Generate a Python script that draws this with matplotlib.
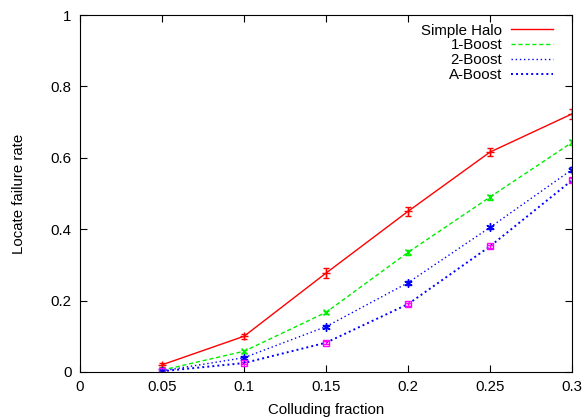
import numpy as np
import matplotlib.pyplot as plt
from matplotlib.lines import Line2D

plt.rcParams['font.family'] = ['Liberation Sans', 'DejaVu Sans']

# colluding fraction
x = [0.05, 0.1, 0.15, 0.2, 0.25, 0.3]

halo = [0.02, 0.10, 0.277, 0.45, 0.616, 0.723]
halo_err = [0.006, 0.007, 0.013, 0.013, 0.011, 0.013]
boost1 = [0.005, 0.058, 0.167, 0.335, 0.49, 0.643]
boost1_err = [0.002, 0.004, 0.005, 0.007, 0.007, 0.008]
boost2 = [0.003, 0.04, 0.127, 0.25, 0.405, 0.567]
boost2_err = [0.002, 0.004, 0.004, 0.005, 0.005, 0.008]
aboost = [0.002, 0.025, 0.082, 0.19, 0.352, 0.537]
aboost_err = [0.002, 0.003, 0.004, 0.004, 0.005, 0.006]

green = '#00ee00'

fig = plt.figure(figsize=(5.85, 4.17), dpi=100)
ax = fig.add_axes([0.1368, 0.108, 0.841, 0.856])

ax.errorbar(x, halo, yerr=halo_err, color='#ff0000', lw=1, ls='-',
            marker='+', ms=6, capsize=2.5, elinewidth=1)
ax.errorbar(x, boost1, yerr=boost1_err, color=green, lw=1, ls=(0, (3, 2)),
            marker='x', ms=5, capsize=2.5, elinewidth=1)
ax.errorbar(x, boost2, yerr=boost2_err, color='#0000ff', lw=1, ls=(0, (1, 2)),
            marker=(6, 2, 0), ms=6, capsize=2.5, elinewidth=1)
ax.plot(x, aboost, color='#0000ff', lw=1.4, ls=(0, (1, 1.6)))
ax.errorbar(x, aboost, yerr=aboost_err, color='#ff00ff', lw=0, ls='none',
            marker='s', ms=5, mfc='none', mew=1, capsize=2, elinewidth=1)

ax.set_xlim(0, 0.3)
ax.set_ylim(0, 1)
ax.set_xticks([0, 0.05, 0.1, 0.15, 0.2, 0.25, 0.3])
ax.set_xticklabels(['0', '0.05', '0.1', '0.15', '0.2', '0.25', '0.3'])
ax.set_yticks([0, 0.2, 0.4, 0.6, 0.8, 1])
ax.set_yticklabels(['0', '0.2', '0.4', '0.6', '0.8', '1'])
ax.tick_params(direction='in', top=True, right=True, length=5, labelsize=10.8,
               pad=6)
ax.set_xlabel('Colluding fraction', fontsize=10.8, labelpad=6)
ax.set_ylabel('Locate failure rate', fontsize=10.8, labelpad=18)

handles = [
    Line2D([], [], color='#ff0000', lw=1, ls='-'),
    Line2D([], [], color=green, lw=1, ls=(0, (3, 2))),
    Line2D([], [], color='#0000ff', lw=1, ls=(0, (1, 2))),
    Line2D([], [], color='#0000ff', lw=1.4, ls=(0, (1, 1.6))),
]
ax.legend(handles, ['Simple Halo', '1-Boost', '2-Boost', 'A-Boost'],
          loc='upper right', bbox_to_anchor=(0.962, 0.976), frameon=False,
          markerfirst=False, fontsize=10.8, handlelength=2.8,
          labelspacing=0.05, borderaxespad=0, borderpad=0,
          handletextpad=0.6)

fig.savefig('out.png', dpi=100)
